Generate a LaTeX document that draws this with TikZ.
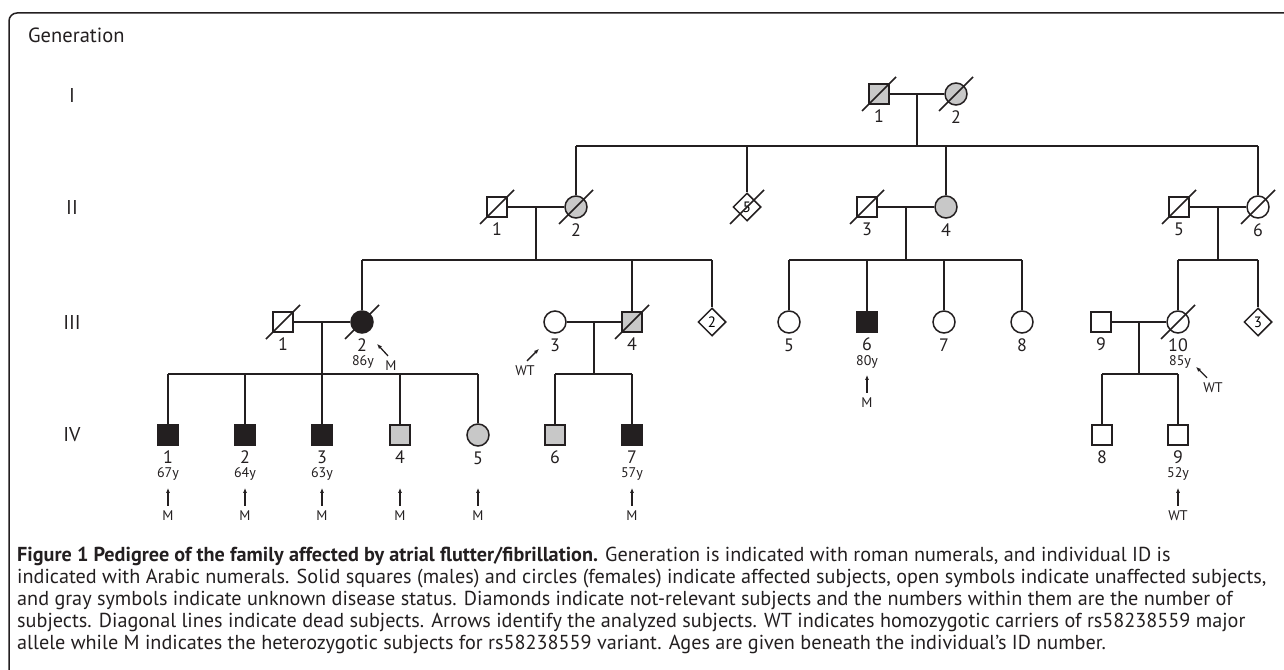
\documentclass[tikz,border=0pt]{standalone}
\usepackage{fontspec}
\setmainfont{PT Sans}
\usetikzlibrary{shapes.geometric,arrows.meta,calc}
\definecolor{unkgray}{RGB}{200,200,200}
\definecolor{ink}{RGB}{35,31,32}

\tikzset{
  male/.style={draw=ink, rectangle, minimum size=20pt, inner sep=0pt, line width=1.5pt},
  female/.style={draw=ink, circle, minimum size=22pt, inner sep=0pt, line width=1.5pt},
  group/.style={draw=ink, diamond, minimum size=28pt, inner sep=0pt, line width=1.5pt, font=\fontsize{15}{15}\selectfont},
  unk/.style={fill=unkgray},
  aff/.style={fill=ink},
  id/.style={label={[idnum]below:#1}},
  idnum/.style={font=\fontsize{18}{18}\selectfont, inner sep=0pt, text=ink},
  age/.style={font=\fontsize{14}{14}\selectfont, inner sep=0pt, text=ink},
  tag/.style={font=\fontsize{14}{14}\selectfont, inner sep=0pt, text=ink},
  gen/.style={font=\fontsize{20}{20}\selectfont, inner sep=0pt, text=ink},
  link/.style={draw=ink, line width=1.5pt},
  tagarrow/.style={draw=ink, line width=1.3pt, -{Latex[length=5pt,width=4pt]}},
}

\begin{document}
\begin{tikzpicture}[x=1pt, y=-1pt, label distance=5pt]
  \useasboundingbox (0,0) rectangle (1284,669);
  \draw[link, rounded corners=8pt] (1300,13) -- (9,13) -- (9,690);

  % generation labels
  \node[anchor=west, inner sep=0pt, text=ink, font=\fontsize{20.5}{20.5}\selectfont] (genhead) at (28,35) {Generation};
  \node[gen] (gi) at (72,95) {I};
  \node[gen] (gii) at (72,207) {II};
  \node[gen] (giii) at (72,322) {III};
  \node[gen] (giv) at (72,435) {IV};

  % generation I
  \node[male, unk, id=1] (i1) at (879,94) {};
  \node[female, unk, id=2] (i2) at (956,94) {};

  % generation II
  \node[male, id=1] (ii1) at (497,207) {};
  \node[female, unk, id=2] (ii2) at (576,207) {};
  \node[group] (iid) at (747,207) {5};
  \node[male, id=3] (ii3) at (867,207) {};
  \node[female, unk, id=4] (ii4) at (946,207) {};
  \node[male, id=5] (ii5) at (1179,207) {};
  \node[female, id=6] (ii6) at (1258,207) {};

  % generation III
  \node[male, id=1] (iii1) at (283,322) {};
  \node[female, aff, id=2] (iii2) at (362,322) {};
  \node[female, id=3] (iii3) at (555,322) {};
  \node[male, unk, id=4] (iii4) at (632,322) {};
  \node[group] (iiid2) at (712,322) {2};
  \node[female, id=5] (iii5) at (789,322) {};
  \node[male, aff, id=6] (iii6) at (867,322) {};
  \node[female, id=7] (iii7) at (944,322) {};
  \node[female, id=8] (iii8) at (1022,322) {};
  \node[male, id=9] (iii9) at (1101,322) {};
  \node[female, id=10] (iii10) at (1178,322) {};
  \node[group] (iiid3) at (1258,322) {3};

  % generation IV
  \node[male, aff, id=1] (iv1) at (168,435) {};
  \node[male, aff, id=2] (iv2) at (245,435) {};
  \node[male, aff, id=3] (iv3) at (322,435) {};
  \node[male, unk, id=4] (iv4) at (400,435) {};
  \node[female, unk, id=5] (iv5) at (478,435) {};
  \node[male, unk, id=6] (iv6) at (555,435) {};
  \node[male, aff, id=7] (iv7) at (632,435) {};
  \node[male, id=8] (iv8) at (1102,435) {};
  \node[male, id=9] (iv9) at (1178,435) {};

  % dead subjects
  \foreach \p in {i1,i2,ii1,ii2,iid,ii3,ii5,ii6,iii1,iii2,iii4,iii10}
    \draw[link] ([shift={(-17,17)}]\p.center) -- ([shift={(17,-17)}]\p.center);

  % sibship heights
  \coordinate (s1) at (0,146);
  \coordinate (s2) at (0,260);
  \coordinate (s3) at (0,374);

  % I -> II
  \draw[link] (i1) -- (i2) node[midway, coordinate] (m1) {};
  \draw[link] (m1) -- (m1 |- s1);
  \draw[link] (ii2 |- s1) -- (ii6 |- s1);
  \foreach \c in {ii2,iid,ii4,ii6}
    \draw[link] (\c |- s1) -- (\c);

  % II -> III
  \draw[link] (ii1) -- (ii2) node[midway, coordinate] (m2) {};
  \draw[link] (m2) -- (m2 |- s2);
  \draw[link] (iii2 |- s2) -- (iiid2 |- s2);
  \foreach \c in {iii2,iii4,iiid2}
    \draw[link] (\c |- s2) -- (\c);
  \draw[link] (ii3) -- (ii4) node[midway, coordinate] (m3) {};
  \draw[link] (m3) -- (m3 |- s2);
  \draw[link] (iii5 |- s2) -- (iii8 |- s2);
  \foreach \c in {iii5,iii6,iii7,iii8}
    \draw[link] (\c |- s2) -- (\c);
  \draw[link] (ii5) -- (ii6) node[midway, coordinate] (m4) {};
  \draw[link] (m4) -- (m4 |- s2);
  \draw[link] (iii10 |- s2) -- (iiid3 |- s2);
  \foreach \c in {iii10,iiid3}
    \draw[link] (\c |- s2) -- (\c);

  % III -> IV
  \draw[link] (iii1) -- (iii2) node[midway, coordinate] (m5) {};
  \draw[link] (m5) -- (m5 |- s3);
  \draw[link] (iv1 |- s3) -- (iv5 |- s3);
  \foreach \c in {iv1,iv2,iv3,iv4,iv5}
    \draw[link] (\c |- s3) -- (\c);
  \draw[link] (iii3) -- (iii4) node[midway, coordinate] (m6) {};
  \draw[link] (m6) -- (m6 |- s3);
  \draw[link] (iv6 |- s3) -- (iv7 |- s3);
  \foreach \c in {iv6,iv7}
    \draw[link] (\c |- s3) -- (\c);
  \draw[link] (iii9) -- (iii10) node[midway, coordinate] (m7) {};
  \draw[link] (m7) -- (m7 |- s3);
  \draw[link] (iv8 |- s3) -- (iv9 |- s3);
  \foreach \c in {iv8,iv9}
    \draw[link] (\c |- s3) -- (\c);

  % ages
  \node[age] (aiii2) at ($(iii2)+(1,40)$) {86y};
  \node[age] (aiii6) at ($(iii6)+(0,40)$) {80y};
  \node[age] (aiii10) at ($(iii10)+(2,40)$) {85y};
  \node[age] (aiv1) at ($(iv1)+(0,39)$) {67y};
  \node[age] (aiv2) at ($(iv2)+(0,39)$) {64y};
  \node[age] (aiv3) at ($(iv3)+(0,39)$) {63y};
  \node[age] (aiv7) at ($(iv7)+(0,39)$) {57y};
  \node[age] (aiv9) at ($(iv9)+(0,39)$) {52y};

  % analyzed subjects
  \foreach \c in {iv1,iv2,iv3,iv4,iv5,iv7,iii6} {
    \node[tag] (t\c) at ($(\c)+(0,81)$) {M};
    \draw[tagarrow] ([shift={(0,-5)}]t\c.north) -- ++(0,-18);
  }
  \node[tag] (tiv9) at ($(iv9)+(0,81)$) {WT};
  \draw[tagarrow] ([shift={(0,-5)}]tiv9.north) -- ++(0,-18);
  \node[tag] (tiii2) at (391,366) {M};
  \draw[tagarrow] ([shift={(-3,-5)}]tiii2.north) -- ++(-11,-12);
  \node[tag] (tiii3) at (525,371) {WT};
  \draw[tagarrow] ([shift={(2,-5)}]tiii3.north) -- ++(12,-12);
  \node[tag] (tiii10) at (1213,388) {WT};
  \draw[tagarrow] ([shift={(-6,-5)}]tiii10.north) -- ++(-11,-11);

  % caption
  \node[anchor=north west, align=left, inner sep=0pt, text=ink, font=\fontsize{20.2}{22}\selectfont] (caption) at (17,547)
    {\textbf{Figure 1 Pedigree of the family affected by atrial flutter/fibrillation.} Generation is indicated with roman numerals, and individual ID is\\
     indicated with Arabic numerals. Solid squares (males) and circles (females) indicate affected subjects, open symbols indicate unaffected subjects,\\
     and gray symbols indicate unknown disease status. Diamonds indicate not-relevant subjects and the numbers within them are the number of\\
     subjects. Diagonal lines indicate dead subjects. Arrows identify the analyzed subjects. WT indicates homozygotic carriers of rs58238559 major\\
     allele while M indicates the heterozygotic subjects for rs58238559 variant. Ages are given beneath the individual’s ID number.};
\end{tikzpicture}
\end{document}
